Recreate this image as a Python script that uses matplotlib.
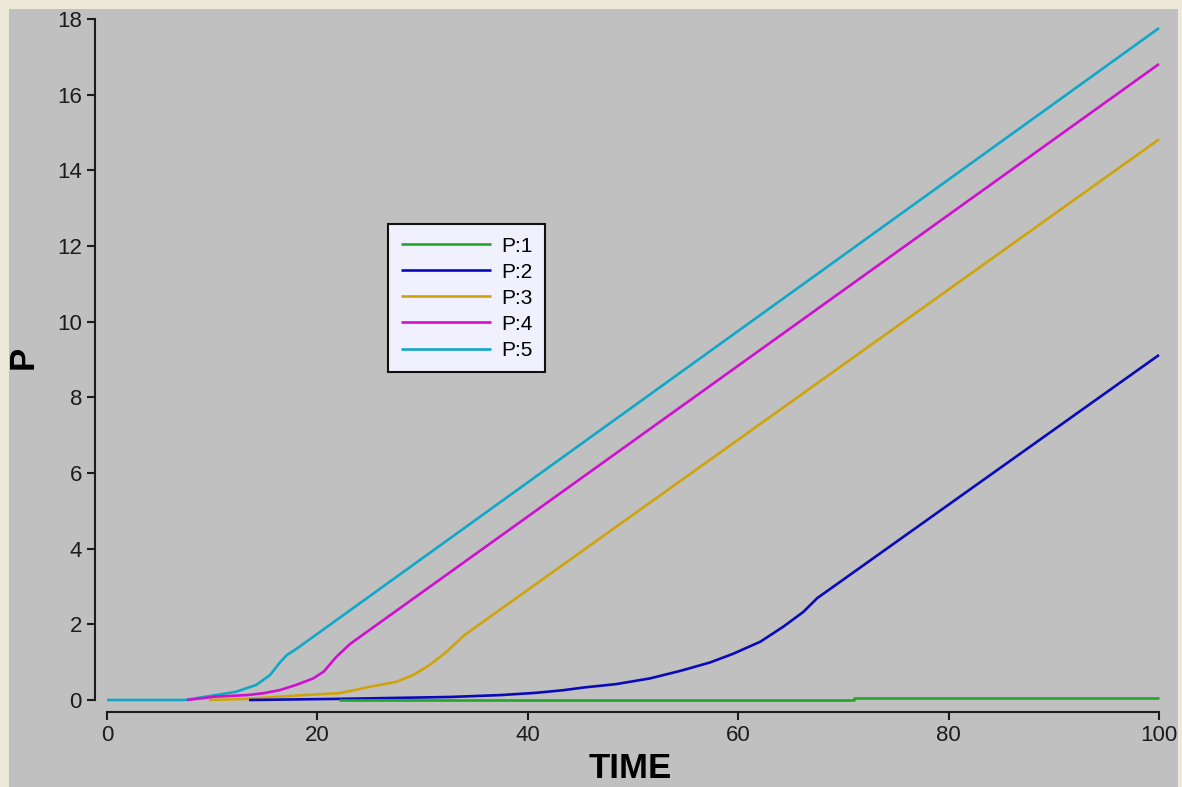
"""P vs TIME: five process curves on a gray panel"""

import matplotlib
matplotlib.use("Agg")
import matplotlib.pyplot as plt
from matplotlib.patches import Rectangle

# ---- data ----
TIME_P1 = [22.1, 71.0, 100]
P1 = [0.01, 0.06, 0.06]

TIME_P2 = [13.5, 22.1, 32.6, 37.4, 40.8, 43.4, 45.3, 48.4, 51.6, 54.5,
           57.3, 59.5, 62.1, 64.3, 66.2, 67.5, 100]
P2 = [0.0, 0.03, 0.08, 0.13, 0.19, 0.26, 0.33, 0.42, 0.57, 0.77,
      0.99, 1.22, 1.54, 1.94, 2.33, 2.69, 9.12]

TIME_P3 = [9.7, 13.3, 18.7, 22.1, 25.0, 27.5, 29.1, 30.7, 32.3, 34.0, 100]
P3 = [0.0, 0.03, 0.13, 0.18, 0.35, 0.48, 0.66, 0.93, 1.28, 1.72, 14.82]

TIME_P4 = [7.6, 10.4, 13.3, 14.9, 16.4, 18.0, 19.6, 20.6, 21.8, 23.1, 100]
P4 = [0.0, 0.09, 0.13, 0.18, 0.26, 0.40, 0.57, 0.75, 1.14, 1.48, 16.81]

TIME_P5 = [0, 7.4, 10.1, 12.3, 14.2, 15.5, 16.4, 17.1, 18.0, 19.6, 100]
P5 = [0.0, 0.0, 0.12, 0.22, 0.40, 0.66, 0.98, 1.19, 1.35, 1.67, 17.76]

LABELS = ["P:1", "P:2", "P:3", "P:4", "P:5"]
COLORS = ["#22a62a", "#0a0ab8", "#cfa30c", "#d010d0", "#10a8c8"]

X_TICKS = [0, 20, 40, 60, 80, 100]
Y_TICKS = [0, 2, 4, 6, 8, 10, 12, 14, 16, 18]

W, H = 1182, 787
DPI = 100
FONT = "Liberation Sans"
INK = "#1c1c1c"

fig = plt.figure(figsize=(W / DPI, H / DPI), dpi=DPI, facecolor="#ece9d8")
# gray panel inside the light window frame
fig.patches.append(Rectangle((9 / W, 0), (1178 - 9) / W, (H - 9) / H,
                             transform=fig.transFigure, facecolor="#c0c0c0",
                             edgecolor="none", zorder=-10))

ax = fig.add_axes([107 / W, (H - 700) / H, (1159 - 107) / W, (700 - 19) / H])
ax.set_facecolor("none")

series = list(zip([TIME_P1, TIME_P2, TIME_P3, TIME_P4, TIME_P5],
                  [P1, P2, P3, P4, P5], LABELS, COLORS))
handles = {}
# draw P:5 first so that P:1 ends up on top
for t, p, lab, col in reversed(series):
    style = "steps-post" if lab == "P:1" else "default"
    ln, = ax.plot(t, p, color=col, linewidth=1.9, label=lab, drawstyle=style,
                  clip_on=False, solid_capstyle="butt")
    handles[lab] = ln

ax.set_xlim(0, 100)
ax.set_ylim(0, 18)
ax.set_xticks(X_TICKS)
ax.set_yticks(Y_TICKS)

for side in ["top", "right"]:
    ax.spines[side].set_visible(False)
for side in ["left", "bottom"]:
    ax.spines[side].set_position(("outward", 8.6))
    ax.spines[side].set_color(INK)
    ax.spines[side].set_linewidth(1.5)

ax.tick_params(direction="out", length=5.8, width=1.5, color=INK,
               labelcolor=INK, labelsize=16, pad=3.6)
for lbl in ax.get_xticklabels() + ax.get_yticklabels():
    lbl.set_fontfamily(FONT)

fig.text(630 / W, 1 - 769 / H, "TIME", fontsize=25, fontweight="bold",
         family=FONT, ha="center", va="center", color="black")
fig.text(23 / W, 1 - 357 / H, "P", fontsize=25, fontweight="bold",
         family=FONT, rotation=90, ha="center", va="center", color="black")

leg = ax.legend([handles[l] for l in LABELS], LABELS,
                loc="upper left", bbox_to_anchor=(388 / W, 1 - 224 / H),
                bbox_transform=fig.transFigure, borderaxespad=0,
                prop={"family": FONT, "size": 15}, handlelength=4.35,
                handletextpad=0.5, labelspacing=0.34, borderpad=0.6,
                fancybox=False, framealpha=1)
leg.get_frame().set_facecolor("#f0f0ff")
leg.get_frame().set_edgecolor("#101010")
leg.get_frame().set_linewidth(1.5)

fig.savefig("out.png", dpi=DPI, facecolor=fig.get_facecolor())
